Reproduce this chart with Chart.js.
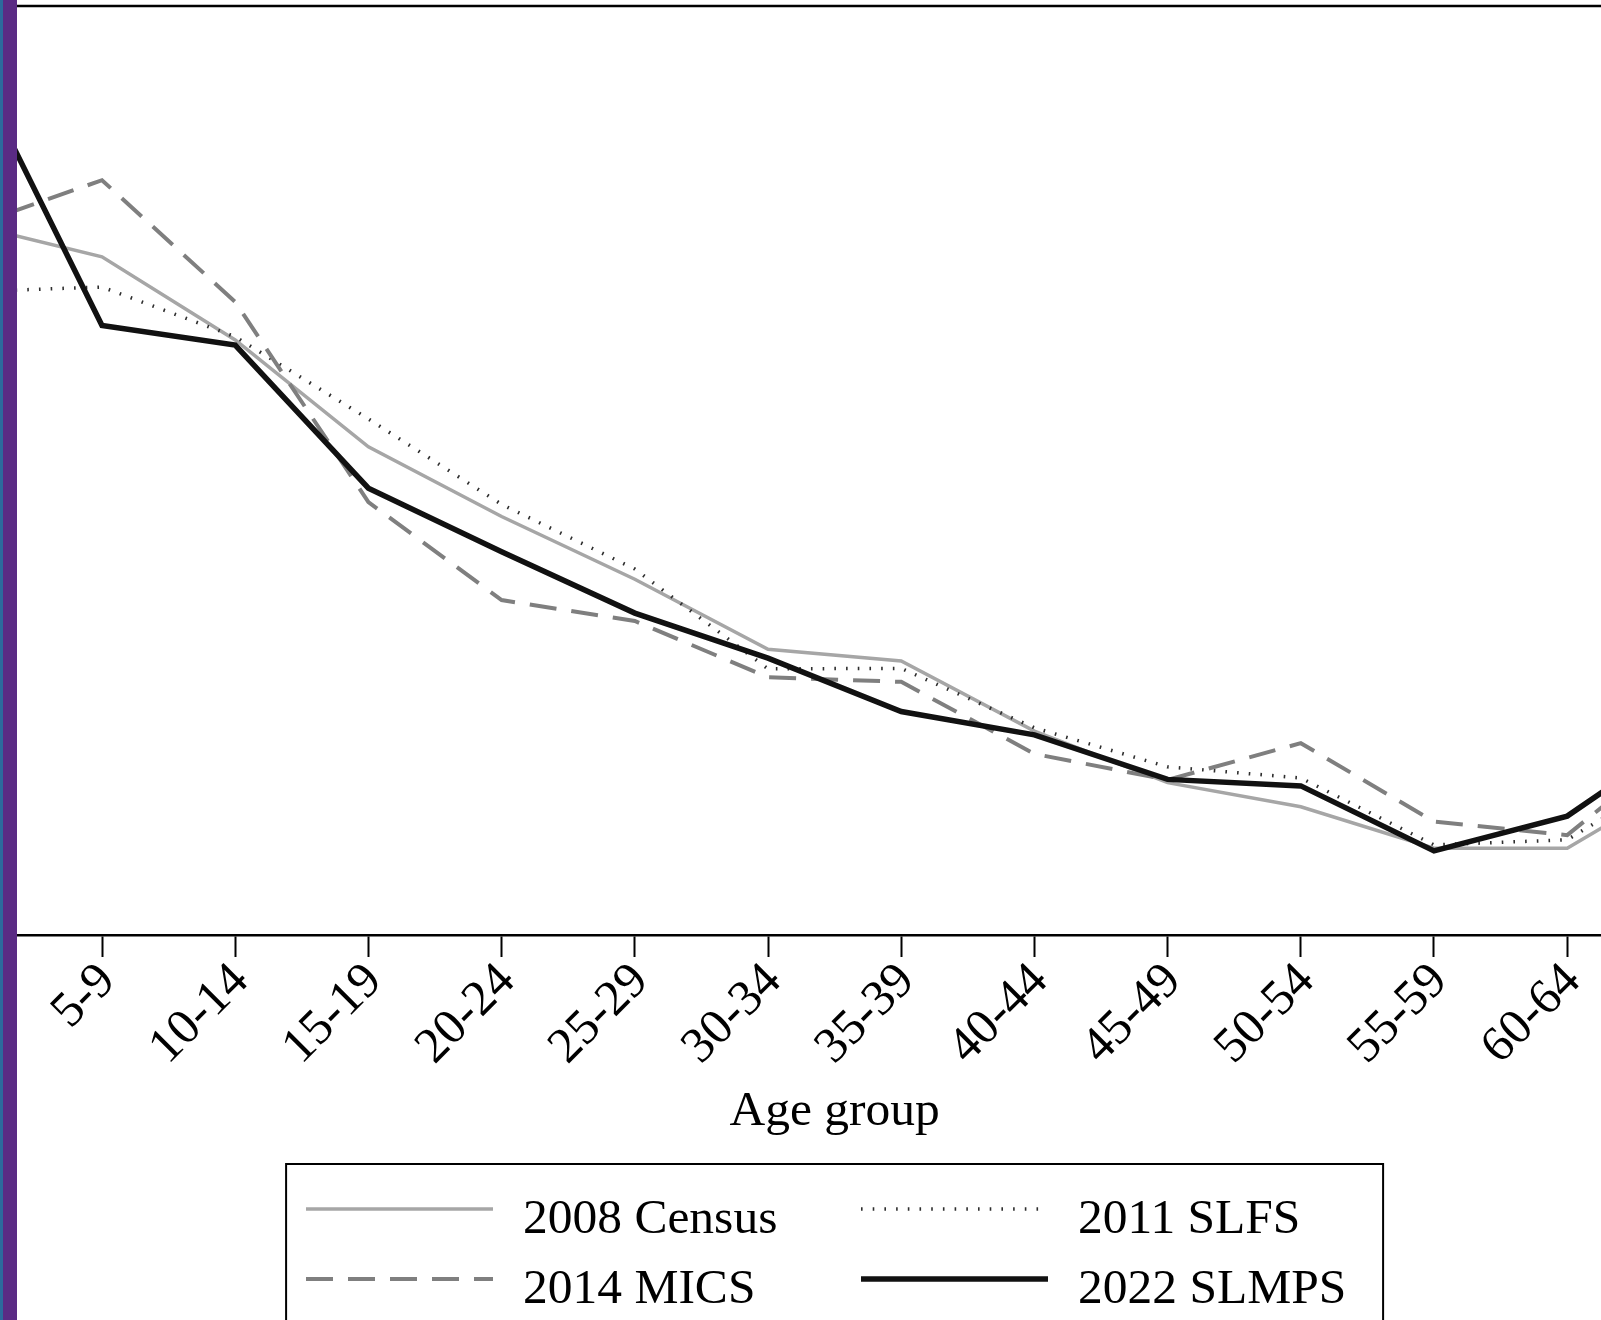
<!DOCTYPE html>
<html>
<head>
<meta charset="utf-8">
<script src="https://cdn.jsdelivr.net/npm/chart.js@4.4.0/dist/chart.umd.min.js"></script>
<style>
html,body{margin:0;padding:0;overflow:hidden;background:#fff;width:1601px;height:1320px;}
#wrap{position:absolute;left:-40px;top:0;width:1800px;height:1320px;}
#strip{position:absolute;left:0;top:0;width:17px;height:1320px;z-index:5;
  background:linear-gradient(to right,#2c6a9c 0,#2c6a9c 3px,#5a2b84 3px,#5a2b84 17px);}
</style>
</head>
<body>
<div id="wrap"><canvas id="c"></canvas></div>
<div id="strip"></div>
<script>
// ---- data (share of population, %) ----
const categories = ['0-4','5-9','10-14','15-19','20-24','25-29','30-34','35-39','40-44','45-49','50-54','55-59','60-64','65+'];
const census2008 = [15.30,14.60,12.81,10.51,9.01,7.66,6.15,5.90,4.39,3.28,2.76,1.87,1.87,3.56];
const slfs2011   = [13.85,13.95,12.88,11.11,9.27,7.88,5.73,5.74,4.46,3.62,3.38,1.94,2.05,3.77];
const mics2014   = [15.24,16.25,13.63,9.32,7.21,6.76,5.55,5.45,3.90,3.34,4.13,2.44,2.15,4.46];
const slmps2022  = [18.91,13.12,12.70,9.62,8.25,6.93,5.96,4.81,4.31,3.35,3.21,1.81,2.56,4.52];
const seriesLabels = ['2008 Census','2011 SLFS','2014 MICS','2022 SLMPS'];
const yRange = [0, 20];
const axisTitle = 'Age group';

const serif = '"Liberation Serif", "Times New Roman", Times, serif';

const frameAndLegend = {
  id: 'frameAndLegend',
  afterDraw(chart) {
    const {ctx, chartArea} = chart;
    ctx.save();
    // top frame line
    ctx.beginPath();
    ctx.lineWidth = 2.5;
    ctx.strokeStyle = '#000';
    ctx.moveTo(chartArea.left, chartArea.top);
    ctx.lineTo(chartArea.right, chartArea.top);
    ctx.stroke();
    // legend box
    const cx = (chartArea.left + chartArea.right) / 2;
    const top = chartArea.bottom + 229;
    ctx.lineWidth = 2;
    ctx.strokeRect(cx - 548.5, top, 1097, 400);
    chart.data.datasets.forEach((ds, i) => {
      const col = i % 2, row = Math.floor(i / 2);
      const sx = cx - 528.6 + col * 555;
      const ly = top + 45 + row * 70;
      ctx.beginPath();
      ctx.setLineDash(ds.borderDash || []);
      ctx.lineWidth = ds.borderWidth;
      ctx.strokeStyle = ds.borderColor;
      ctx.lineCap = 'butt';
      ctx.moveTo(sx, ly);
      ctx.lineTo(sx + 187, ly);
      ctx.stroke();
      ctx.setLineDash([]);
      ctx.fillStyle = '#000';
      ctx.font = '49.5px ' + serif;
      ctx.textBaseline = 'alphabetic';
      ctx.textAlign = 'left';
      ctx.fillText(ds.label, sx + 217, ly + 24);
    });
    ctx.restore();
  }
};

new Chart(document.getElementById('c'), {
  type: 'line',
  data: {
    labels: categories,
    datasets: [
      { label: seriesLabels[0], data: census2008, borderColor: '#a6a6a6', borderWidth: 3.5, order: 3 },
      { label: seriesLabels[1], data: slfs2011, borderColor: '#2e2e2e', borderWidth: 3.5, borderDash: [1.6, 10.1], order: 2 },
      { label: seriesLabels[2], data: mics2014, borderColor: '#7f7f7f', borderWidth: 4, borderDash: [27, 15], order: 1 },
      { label: seriesLabels[3], data: slmps2022, borderColor: '#111111', borderWidth: 5.5, order: 0 }
    ]
  },
  options: {
    responsive: true,
    maintainAspectRatio: false,
    animation: false,
    devicePixelRatio: 1,
    elements: { point: { radius: 0, hoverRadius: 0 }, line: { tension: 0, fill: false, borderJoinStyle: 'miter' } },
    layout: { padding: { left: 8.8, right: 59.6, top: 6, bottom: 0 } },
    plugins: { legend: { display: false }, tooltip: { enabled: false } },
    scales: {
      x: {
        type: 'category',
        offset: false,
        grid: { display: true, drawOnChartArea: false, drawTicks: true, tickLength: 22, tickWidth: 2, tickColor: '#000', color: '#000' },
        border: { display: true, color: '#000', width: 2.5 },
        ticks: { autoSkip: false, minRotation: 45, maxRotation: 45, color: '#000', padding: -5, labelOffset: 6,
                 font: { family: serif, size: 50 } },
        title: { display: true, text: axisTitle, color: '#000',
                 font: { family: serif, size: 49.5, lineHeight: 1 }, padding: { top: 0, bottom: 183 } },
        afterFit(scale) { scale.height = 385; scale.paddingLeft = 0; scale.paddingRight = 0; }
      },
      y: { display: false, min: yRange[0], max: yRange[1] }
    }
  },
  plugins: [frameAndLegend]
});
</script>
</body>
</html>
